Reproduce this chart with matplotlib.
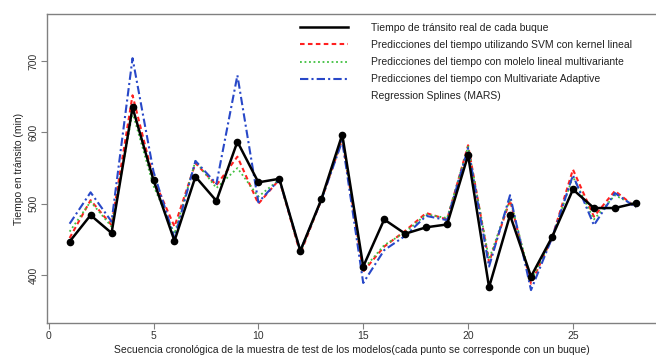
import matplotlib
matplotlib.use("Agg")
import matplotlib.pyplot as plt
from matplotlib.lines import Line2D

plt.rcParams['font.family'] = ['Liberation Sans', 'DejaVu Sans']

x = list(range(1, 29))
real = [447, 484, 459, 635, 533, 448, 538, 504, 587, 530, 535, 434, 506, 597,
        412, 478, 458, 467, 471, 568, 383, 484, 398, 453, 520, 494, 494, 501]
svm = [452, 505, 470, 652, 535, 468, 557, 526, 566, 500, 534, 430, 505, 590,
       405, 440, 462, 487, 478, 582, 418, 505, 388, 452, 548, 482, 518, 495]
lineal = [461, 503, 468, 628, 525, 458, 560, 522, 550, 510, 534, 432, 505, 592,
          408, 442, 460, 485, 480, 580, 422, 507, 392, 452, 538, 478, 512, 497]
mars = [472, 516, 475, 704, 545, 452, 560, 528, 680, 502, 534, 434, 505, 588,
        389, 435, 455, 483, 477, 578, 412, 512, 379, 452, 540, 470, 515, 495]

labels = ["Tiempo de tránsito real de cada buque",
          "Predicciones del tiempo utilizando SVM con kernel lineal",
          "Predicciones del tiempo con molelo lineal multivariante",
          "Predicciones del tiempo con Multivariate Adaptive",
          "Regression Splines (MARS)"]
xticks = [0, 5, 10, 15, 20, 25]
yticks = [400, 500, 600, 700]

fig = plt.figure(figsize=(6.56, 3.58), dpi=100)
ax = fig.add_axes([0.0716, 0.098, 0.9284, 0.863])

c_red = '#ff2020'
c_green = '#40c040'
c_blue = '#2848c8'
ls_red = (0, (2.2, 1.6))
ls_green = (0, (1, 1.5))
ls_blue = (0, (4, 1.5, 1, 1.5))

ax.plot(x, svm, color=c_red, lw=1.5, ls=ls_red)
ax.plot(x, lineal, color=c_green, lw=1.3, ls=ls_green)
ax.plot(x, mars, color=c_blue, lw=1.5, ls=ls_blue)
ax.plot(x, real, color='black', lw=1.8, marker='o', ms=4.5)

ax.set_xlim(-0.08, 28.96)
ax.set_ylim(333, 766)
ax.set_xticks(xticks)
ax.set_yticks(yticks)
ax.set_yticklabels([str(v) for v in yticks], rotation=90, va='center')
ax.tick_params(axis='both', direction='out', length=4, width=0.8, color='#808080',
               labelsize=7.5, labelcolor='#333333', pad=2)
for side in ['left', 'bottom', 'top']:
    ax.spines[side].set_color('#808080')
    ax.spines[side].set_linewidth(1.0)
ax.spines['right'].set_visible(False)

ax.set_xlabel("Secuencia cronológica de la muestra de test de los modelos(cada punto se corresponde con un buque)",
              fontsize=7.5, color='#222222', labelpad=3)
ax.set_ylabel("Tiempo en tránsito (min)", fontsize=7.5, color='#222222', labelpad=3)

handles = [Line2D([], [], color='black', lw=1.8),
           Line2D([], [], color=c_red, lw=1.5, ls=ls_red),
           Line2D([], [], color=c_green, lw=1.3, ls=ls_green),
           Line2D([], [], color=c_blue, lw=1.5, ls=ls_blue),
           Line2D([], [], color='none', lw=0)]
leg = fig.legend(handles, labels, loc='upper left', bbox_to_anchor=(300 / 656, 1 - 23 / 358),
                 frameon=False, fontsize=7.5, handlelength=4.6, handletextpad=2.2,
                 labelspacing=0.68, borderpad=0, borderaxespad=0)
for t in leg.get_texts():
    t.set_color('#222222')

fig.savefig('out.png', dpi=100)
